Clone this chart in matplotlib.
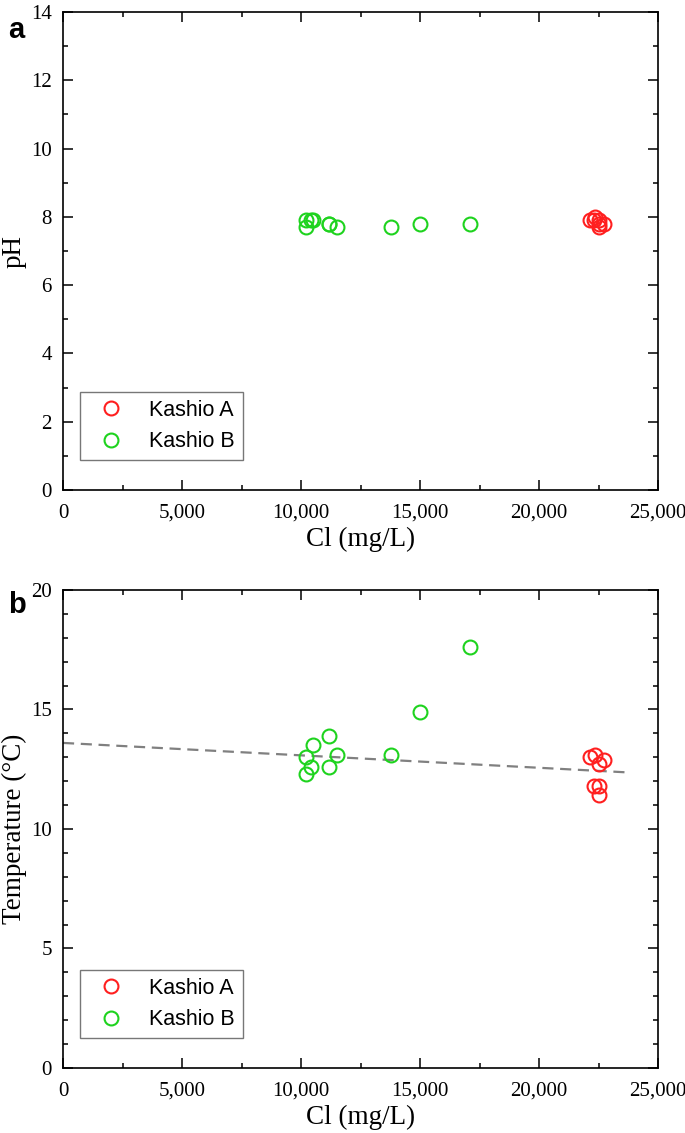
import numpy as np
import matplotlib
matplotlib.use('Agg')
import matplotlib.pyplot as plt
from matplotlib.ticker import MultipleLocator, StrMethodFormatter

# Kashio A (red)
cl_a = [22124, 22335, 22732, 22520, 22310, 22520, 22520]
ph_a = [7.9, 8.0, 7.8, 7.9, 7.9, 7.8, 7.7]
temp_a = [13.0, 13.1, 12.9, 12.7, 11.8, 11.8, 11.4]

# Kashio B (green)
cl_b = [10211, 10493, 11195, 11519, 10422, 11195, 10211, 13797, 15010, 17103]
ph_b = [7.9, 7.9, 7.8, 7.7, 7.9, 7.8, 7.7, 7.7, 7.8, 7.8]
temp_b = [13.0, 13.5, 13.9, 13.1, 12.6, 12.6, 12.3, 13.1, 14.9, 17.6]

# trend line
trend_x = [0, 23600]
trend_intercept = 13.6
trend_slope = -5.2e-5

RED = '#ff1f1f'
GREEN = '#1ed31e'
SERIF = ['Liberation Serif', 'DejaVu Serif']
SANS = 'Liberation Sans'

fig = plt.figure(figsize=(6.85, 11.33), dpi=100)
ax_a = fig.add_axes([0.092, 0.5675, 0.8686, 0.4219])
ax_b = fig.add_axes([0.092, 0.0574, 0.8686, 0.4219])


def style_axis(ax, ymax, ymajor, ylabel):
    ax.set_xlim(0, 25000)
    ax.set_ylim(0, ymax)
    ax.xaxis.set_major_locator(MultipleLocator(5000))
    ax.xaxis.set_minor_locator(MultipleLocator(2500))
    ax.yaxis.set_major_locator(MultipleLocator(ymajor))
    ax.yaxis.set_minor_locator(MultipleLocator(1))
    ax.xaxis.set_major_formatter(StrMethodFormatter('{x:,.0f}'))
    ax.tick_params(which='both', direction='in', top=True, right=True,
                   width=1.1, labelsize=15)
    ax.tick_params(which='major', length=7)
    ax.tick_params(which='minor', length=3.5)
    ax.tick_params(axis='x', pad=10)
    ax.tick_params(axis='y', pad=8)
    for lab in ax.get_xticklabels() + ax.get_yticklabels():
        lab.set_fontfamily(SERIF)
    for sp in ax.spines.values():
        sp.set_linewidth(1.2)
    ax.set_xlabel('Cl (mg/L)', fontsize=19.5, family=SERIF, labelpad=3)
    ax.set_ylabel(ylabel, fontsize=19.5, family=SERIF, labelpad=3)


def scatter_pair(ax, ya, yb):
    ax.plot(cl_a, ya, 'o', mfc='none', mec=RED, ms=10, mew=1.5,
            label='Kashio A', zorder=3)
    ax.plot(cl_b, yb, 'o', mfc='none', mec=GREEN, ms=10, mew=1.5,
            label='Kashio B', zorder=3)
    leg = ax.legend(loc='lower left', bbox_to_anchor=(0.0286, 0.063),
                    prop={'family': SANS, 'size': 15.5}, fancybox=False,
                    edgecolor='#777777', framealpha=1, handletextpad=0.65,
                    borderpad=0.36, labelspacing=0.49, handlelength=2.2,
                    borderaxespad=0)
    leg.get_frame().set_linewidth(1.0)


scatter_pair(ax_a, ph_a, ph_b)
style_axis(ax_a, 14, 2, 'pH')

tx = np.array(trend_x)
ax_b.plot(tx, trend_intercept + trend_slope * tx, '--', color='#808080',
          lw=1.6, dashes=(5, 3), zorder=2)
scatter_pair(ax_b, temp_a, temp_b)
style_axis(ax_b, 20, 5, 'Temperature (\u00b0C)')

fig.text(0.012, 0.986, 'a', fontsize=21, fontweight='bold', family=SANS,
         va='top')
fig.text(0.012, 0.478, 'b', fontsize=21, fontweight='bold', family=SANS,
         va='top')

fig.savefig('out.png', dpi=100)
